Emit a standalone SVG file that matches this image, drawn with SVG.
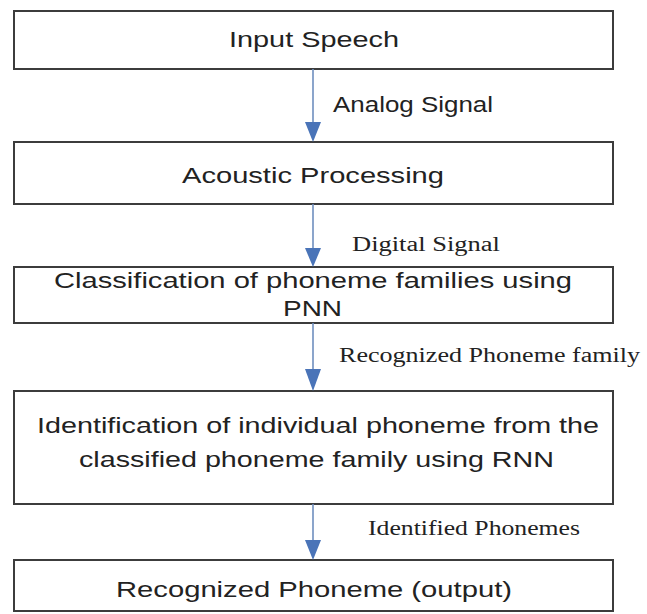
<svg xmlns="http://www.w3.org/2000/svg" width="647" height="614" viewBox="0 0 647 614">
<style>
.box{fill:#fff;stroke:#3c3c3c;stroke-width:2}
.t{font-family:"Liberation Sans",Arial,sans-serif;font-size:22px;fill:#222}
.s{font-family:"Liberation Serif","Times New Roman",serif;font-size:20px;fill:#222}
.ln{stroke:#6f8fbf;stroke-width:1.6;fill:none}
.hd{fill:#4a74b8}
</style>
<rect width="647" height="614" fill="#fff"/>
<g id="n1"><rect class="box" x="14" y="11" width="599" height="58"/>
<text class="t" x="229" y="47" textLength="170" lengthAdjust="spacingAndGlyphs">Input Speech</text></g>
<g id="n2"><rect class="box" x="14" y="142" width="599" height="62"/>
<text class="t" x="182" y="183" textLength="262" lengthAdjust="spacingAndGlyphs">Acoustic Processing</text></g>
<g id="n3"><rect class="box" x="14" y="267" width="599" height="56"/>
<text class="t" x="54" y="288" textLength="518" lengthAdjust="spacingAndGlyphs">Classification of phoneme families using</text>
<text class="t" x="283" y="316" textLength="59" lengthAdjust="spacingAndGlyphs">PNN</text></g>
<g id="n4"><rect class="box" x="14" y="391" width="599" height="113"/>
<text class="t" x="37" y="433" textLength="562" lengthAdjust="spacingAndGlyphs">Identification of individual phoneme from the</text>
<text class="t" x="79" y="467" textLength="475" lengthAdjust="spacingAndGlyphs">classified phoneme family using RNN</text></g>
<g id="n5"><rect class="box" x="14" y="560" width="599" height="51"/>
<text class="t" x="116" y="597" textLength="396" lengthAdjust="spacingAndGlyphs">Recognized Phoneme (output)</text></g>
<g id="edges">
<line class="ln" x1="313" y1="69" x2="313" y2="124"/><path class="hd" d="M305,122 L321,122 L313,142 Z"/>
<text class="t" x="333" y="112" textLength="160" lengthAdjust="spacingAndGlyphs">Analog Signal</text>
<line class="ln" x1="313" y1="204" x2="313" y2="250"/><path class="hd" d="M305,248 L321,248 L313,267 Z"/>
<text class="s" x="352" y="251" textLength="148" lengthAdjust="spacingAndGlyphs">Digital Signal</text>
<line class="ln" x1="313" y1="323" x2="313" y2="371"/><path class="hd" d="M305,369 L321,369 L313,391 Z"/>
<text class="s" x="339" y="362" textLength="301" lengthAdjust="spacingAndGlyphs">Recognized  Phoneme family</text>
<line class="ln" x1="313" y1="504" x2="313" y2="542"/><path class="hd" d="M305,540 L321,540 L313,560 Z"/>
<text class="s" x="368" y="535" textLength="212" lengthAdjust="spacingAndGlyphs">Identified Phonemes</text>
</g>
</svg>
